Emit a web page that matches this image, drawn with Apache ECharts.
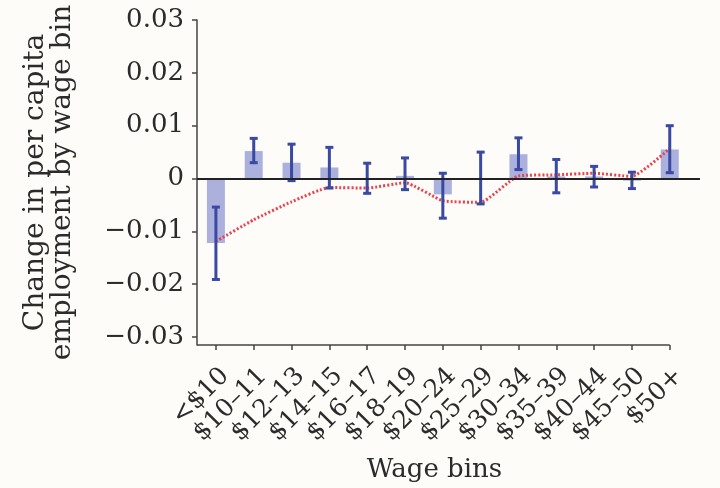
<!DOCTYPE html>
<html>
<head>
<meta charset="utf-8">
<script src="https://cdn.jsdelivr.net/npm/echarts@6/dist/echarts.min.js"></script>
<style>html,body{margin:0;padding:0;background:#fdfcf8}#c{width:720px;height:488px}</style>
</head>
<body>
<div id="c"></div>
<script>
const categories = ['<$10','$10–11','$12–13','$14–15','$16–17','$18–19','$20–24','$25–29','$30–34','$35–39','$40–44','$45–50','$50+'];
const barValues = [-0.0122, 0.0052, 0.0030, 0.0021, 0.0001, 0.0005, -0.0030, 0.0001, 0.0046, 0.0004, 0.0004, -0.0004, 0.0055];
const errHigh = [-0.0054, 0.0076, 0.0065, 0.0059, 0.0029, 0.0039, 0.0010, 0.0050, 0.0077, 0.0036, 0.0023, 0.0012, 0.0100];
const errLow = [-0.0191, 0.0030, -0.0004, -0.0018, -0.0028, -0.0021, -0.0075, -0.0048, 0.0017, -0.0027, -0.0016, -0.0019, 0.0011];
const fitValues = [-0.0119, -0.0078, -0.0044, -0.0017, -0.0018, -0.0008, -0.0042, -0.0045, 0.0005, 0.0007, 0.0010, 0.0004, 0.0057];
const yTicks = [-0.03, -0.02, -0.01, 0, 0.01, 0.02, 0.03];
const yMin = -0.0315, yMax = 0.03;
const xMin = -0.5, xMax = 12.8;

const idx = categories.map((_, i) => i);
const fontFam = 'DejaVu Serif';
const txtColor = '#2b2b2b';
const chart = echarts.init(document.getElementById('c'), null, {renderer: 'canvas'});
const fmtY = v => {
  if (Math.abs(v) < 1e-9) return '0';
  return (v < 0 ? '\u2212' : '') + Math.abs(v).toFixed(2);
};
chart.setOption({
  backgroundColor: '#fdfcf8',
  animation: false,
  grid: {left: 197, top: 20, right: 20, bottom: 143, containLabel: false},
  xAxis: {
    type: 'value', min: xMin, max: xMax,
    axisLine: {show: false, onZero: false},
    splitLine: {show: false},
    axisTick: {show: true, customValues: idx, length: 5, lineStyle: {color: '#444', width: 1.5}},
    axisLabel: {
      customValues: idx, rotate: 45, margin: 18, verticalAlign: 'top', lineHeight: 26,
      formatter: v => categories[Math.round(v)],
      fontFamily: fontFam, fontSize: 25, color: txtColor
    },
    name: 'Wage bins', nameLocation: 'middle', nameGap: 112, nameMoveOverlap: false,
    nameTextStyle: {fontFamily: fontFam, fontSize: 26, color: txtColor, padding: [0, 28, 0, 0]}
  },
  yAxis: {
    type: 'value', min: yMin, max: yMax,
    axisLine: {show: true, onZero: false, lineStyle: {color: '#444', width: 1.5}},
    splitLine: {show: false},
    axisTick: {show: true, customValues: yTicks, length: 5, lineStyle: {color: '#444', width: 1.5}},
    axisLabel: {customValues: yTicks, formatter: fmtY, margin: 13, padding: [7, 0, 0, 0], fontFamily: fontFam, fontSize: 26, color: txtColor},
    name: 'Change in per capita\nemployment by wage bin', nameLocation: 'middle', nameGap: 121, nameRotate: 90, nameMoveOverlap: false,
    nameTextStyle: {fontFamily: fontFam, fontSize: 28, color: txtColor, lineHeight: 27, align: 'center'}
  },
  series: [
    {
      type: 'bar', barWidth: 18, z: 2,
      data: barValues.map((v, i) => [i, v]),
      itemStyle: {color: '#abb1dc'},
      markLine: {
        silent: true, symbol: 'none', label: {show: false},
        data: [
          {yAxis: 0, lineStyle: {color: '#222', width: 2, type: 'solid'}},
          [{coord: [xMin, yMin], lineStyle: {color: '#444', width: 1.5, type: 'solid'}}, {coord: [categories.length - 1, yMin]}]
        ]
      }
    },
    {
      type: 'line', z: 3, symbol: 'none', smooth: 0.15,
      data: fitValues.map((v, i) => [i, v]),
      lineStyle: {color: '#e8434e', width: 3, type: [2, 2]}
    },
    {
      type: 'custom', z: 4,
      data: idx.map(i => [i, errLow[i], errHigh[i]]),
      renderItem: (params, api) => {
        const x = api.value(0);
        const lo = api.coord([x, api.value(1)]);
        const hi = api.coord([x, api.value(2)]);
        const cw = 4;
        const st = {stroke: '#3a49a2', lineWidth: 3};
        return {type: 'group', children: [
          {type: 'line', shape: {x1: lo[0], y1: lo[1], x2: hi[0], y2: hi[1]}, style: st},
          {type: 'line', shape: {x1: lo[0] - cw, y1: lo[1], x2: lo[0] + cw, y2: lo[1]}, style: st},
          {type: 'line', shape: {x1: hi[0] - cw, y1: hi[1], x2: hi[0] + cw, y2: hi[1]}, style: st}
        ]};
      }
    }
  ]
});
</script>
</body>
</html>
